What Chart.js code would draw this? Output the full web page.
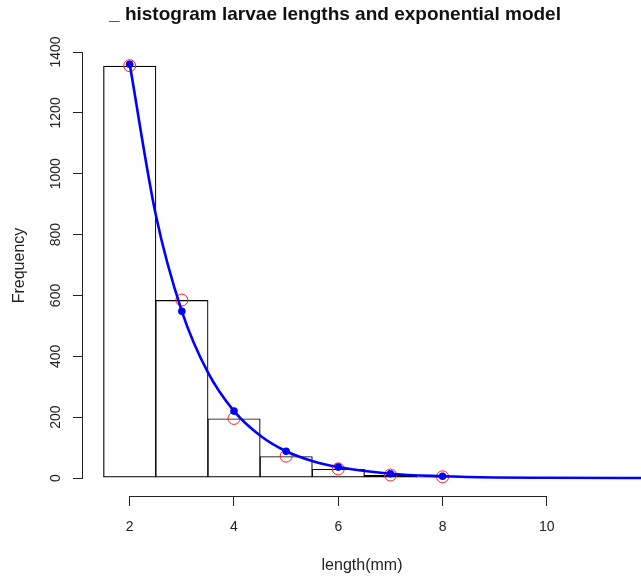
<!DOCTYPE html>
<html lang="en">
<head>
    <meta charset="UTF-8">
    <title>histogram larvae lengths</title>
    <script src="https://cdn.jsdelivr.net/npm/chart.js"></script>
    <style>
        body { margin: 0; background: #fff; }
    </style>
</head>

<body>

    <canvas id="myChart" width="641" height="576"></canvas>

    <script>

        // histogram bins (mid points) and counts
        const binMids = [2, 3, 4, 5, 6, 7, 8];
        const counts = [1355, 585, 196, 72, 30, 10, 4];

        // exponential model predicted at the bin mids
        const modelX = [2, 3, 4, 5, 6, 7, 8];
        const modelY = [1360, 548, 220, 88, 36, 14, 6];

        // fitted curve, sampled along length
        const curveX = [2, 2.5, 3, 3.5, 4, 4.5, 5, 5.5, 6, 7, 8, 9, 10, 12];
        const curveY = [1360, 865, 548, 347, 220, 140, 88, 56, 36, 14, 6, 2, 1, 0];

        const xTicks = [2, 4, 6, 8, 10];
        const yTicks = [0, 200, 400, 600, 800, 1000, 1200, 1400];

        const titleText = '_ histogram larvae lengths and exponential model';
        const font = "'Liberation Sans', Arial, sans-serif";
        const ink = '#222';

        const pairs = (xs, ys) => xs.map((x, i) => ({ x: x, y: ys[i] }));

        // setup block
        const data = {
            datasets: [
                {
                    type: 'scatter',
                    data: pairs(modelX, modelY),
                    pointRadius: 3.8,
                    pointBackgroundColor: '#0000ff',
                    pointBorderWidth: 0,
                    order: 0
                },
                {
                    type: 'line',
                    data: pairs(curveX, curveY),
                    borderColor: '#0000ff',
                    borderWidth: 2.6,
                    pointRadius: 0,
                    cubicInterpolationMode: 'monotone',
                    order: 1
                },
                {
                    type: 'scatter',
                    data: pairs(binMids, counts),
                    pointRadius: 6,
                    pointBackgroundColor: 'rgba(0,0,0,0)',
                    pointBorderColor: '#ff1a1a',
                    pointBorderWidth: 1,
                    order: 2
                },
                {
                    // bars widened by one pixel so neighbouring outlines share an edge
                    type: 'bar',
                    data: pairs(binMids, counts),
                    backgroundColor: 'rgba(0,0,0,0)',
                    borderColor: '#000',
                    borderWidth: 1.2,
                    borderSkipped: false,
                    barPercentage: 1.019,
                    categoryPercentage: 1,
                    order: 3
                }
            ]
        };

        // R style axes: line only between first and last tick, rotated y labels, title
        const rAxes = {
            id: 'rAxes',
            afterDraw(chart) {
                const ctx = chart.ctx;
                const xs = chart.scales.x;
                const ys = chart.scales.y;
                const area = chart.chartArea;
                ctx.save();
                ctx.strokeStyle = ink;
                ctx.lineWidth = 1;

                const xb = Math.round(area.bottom) + 0.5;
                ctx.beginPath();
                ctx.moveTo(xs.getPixelForValue(xTicks[0]), xb);
                ctx.lineTo(xs.getPixelForValue(xTicks[xTicks.length - 1]), xb);
                ctx.stroke();

                const yl = Math.round(area.left) - 0.5;
                ctx.beginPath();
                ctx.moveTo(yl, ys.getPixelForValue(yTicks[0]));
                ctx.lineTo(yl, ys.getPixelForValue(yTicks[yTicks.length - 1]));
                ctx.stroke();

                ctx.fillStyle = ink;
                ctx.font = '14px ' + font;
                ctx.textAlign = 'center';
                ctx.textBaseline = 'middle';
                yTicks.forEach(v => {
                    ctx.save();
                    ctx.translate(56, ys.getPixelForValue(v));
                    ctx.rotate(-Math.PI / 2);
                    ctx.fillText(String(v), 0, 0);
                    ctx.restore();
                });

                ctx.font = 'bold 19px ' + font;
                ctx.fillStyle = '#111';
                ctx.fillText(titleText, 335, 15);
                ctx.restore();
            }
        };

        //config block
        const config = {
            type: 'bar',
            data,
            plugins: [rAxes],
            options: {
                responsive: false,
                animation: false,
                devicePixelRatio: 1,
                layout: { autoPadding: false, padding: { top: 35, right: 0, left: 0, bottom: 0 } },
                plugins: {
                    legend: { display: false },
                    tooltip: { enabled: false },
                    title: { display: false }
                },
                scales: {
                    x: {
                        type: 'linear',
                        offset: false,
                        min: 1.104,
                        max: 11.806,
                        afterBuildTicks: s => { s.ticks = xTicks.map(v => ({ value: v })); },
                        afterFit: s => { s.height = 80; s.paddingLeft = 0; s.paddingRight = 0; },
                        border: { display: false },
                        grid: { offset: false, drawOnChartArea: false, drawTicks: true, tickLength: 10, color: ink },
                        ticks: { color: ink, font: { family: font, size: 14 }, padding: 13, maxRotation: 0 },
                        title: {
                            display: true,
                            text: 'length(mm)',
                            color: ink,
                            font: { family: font, size: 16 },
                            padding: { top: 0, bottom: 1 }
                        }
                    },
                    y: {
                        type: 'linear',
                        min: -59,
                        max: 1456,
                        afterBuildTicks: s => { s.ticks = yTicks.map(v => ({ value: v })); },
                        afterFit: s => { s.width = 83; s.paddingTop = 0; s.paddingBottom = 0; },
                        border: { display: false },
                        grid: { drawOnChartArea: false, drawTicks: true, tickLength: 10, color: ink },
                        ticks: { color: 'rgba(0,0,0,0)', font: { family: font, size: 14 } },
                        title: {
                            display: true,
                            text: 'Frequency',
                            color: ink,
                            font: { family: font, size: 16 },
                            padding: { top: 10, bottom: 0 }
                        }
                    }
                }
            }
        };

        // render block
        const myChart = new Chart(
            document.getElementById('myChart'),
            config
        );

    </script>

</body>

</html>
